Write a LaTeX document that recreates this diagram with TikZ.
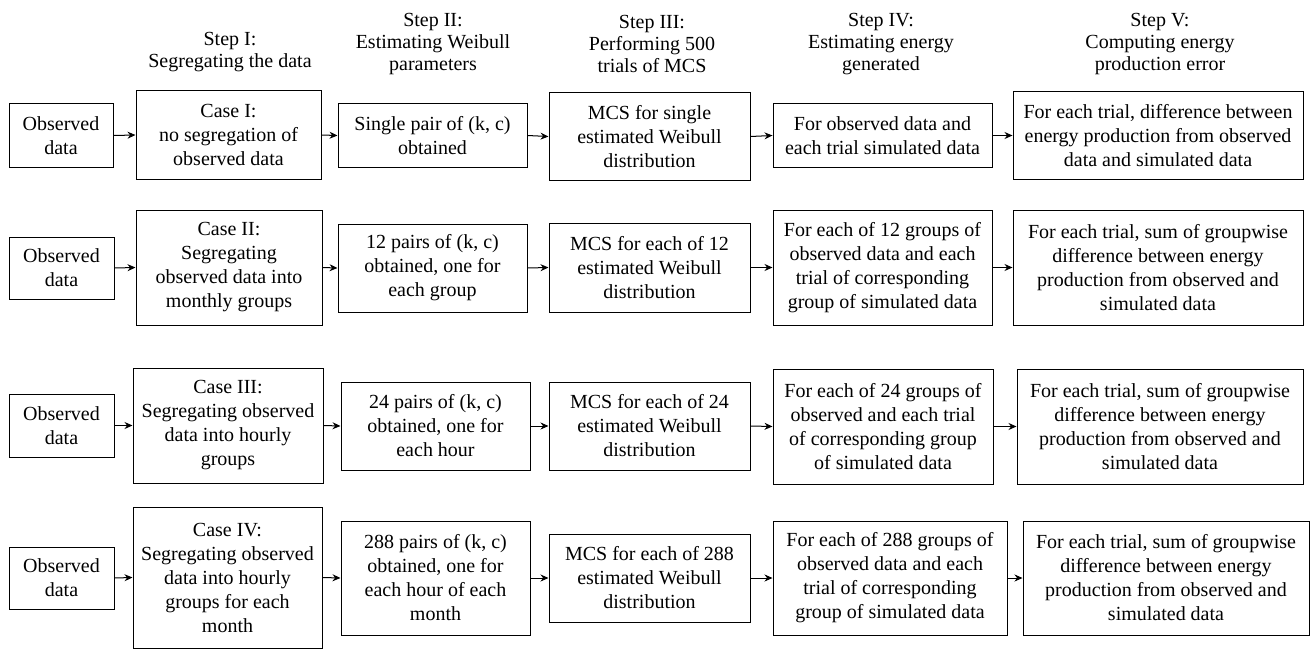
\documentclass[tikz,border=0pt]{standalone}
\usepackage{fontspec}
\setmainfont{Liberation Serif}
\newfontfamily\tnr{Liberation Serif}
\usetikzlibrary{arrows.meta}
\tikzset{
  box/.style={draw, line width=1pt, inner sep=0pt, align=center, font=\tnr\fontsize{20}{24}\selectfont},
  hdr/.style={align=center, inner sep=0pt, font=\tnr\fontsize{20}{22}\selectfont},
  arr/.style={line width=1pt, -{Stealth[length=8pt,width=7pt]}}
}
\newcommand{\bx}[6]{\node[box, minimum width={#4-#2}, minimum height={#5-#3}] (#1) at ({(#2+#4)/2},{(#3+#5)/2}) {#6};}
\begin{document}
\begin{tikzpicture}[x=1pt,y=-1pt]
\useasboundingbox (0,0) rectangle (1311,650);
% headers
\node[hdr] (h1) at (230,52) {Step I:\\Segregating the data};
\node[hdr] (h2) at (433,44) {Step II:\\Estimating Weibull\\parameters};
\node[hdr] (h3) at (652,44) {Step III:\\Performing 500\\trials of MCS};
\node[hdr] (h4) at (881,44) {Step IV:\\Estimating energy\\generated};
\node[hdr] (h5) at (1160,44) {Step V:\\Computing energy\\production error};
% row 1
\bx{obsA}{9}{104}{113}{167}{Observed\\data}
\bx{caseA}{136}{91}{321}{179}{Case I:\\no segregation of\\observed data}
\bx{kA}{338}{104}{527}{167}{Single pair of (k, c)\\obtained}
\bx{mcsA}{549}{93}{750}{180}{MCS for single\\estimated Weibull\\distribution}
\bx{enA}{773}{104}{992}{167}{For observed data and\\each trial simulated data}
\bx{errA}{1013}{92}{1303}{179}{For each trial, difference between\\energy production from observed\\data and simulated data}
% row 2
\bx{obsB}{9}{237}{114}{299}{Observed\\data}
\bx{caseB}{136}{210}{322}{325}{Case II:\\Segregating\\observed data into\\monthly groups}
\bx{kB}{338}{224}{527}{312}{12 pairs of (k, c)\\obtained, one for\\each group}
\bx{mcsB}{549}{223}{750}{312}{MCS for each of 12\\estimated Weibull\\distribution}
\bx{enB}{773}{210}{992}{325}{For each of 12 groups of\\observed data and each\\trial of corresponding\\group of simulated data}
\bx{errB}{1013}{210}{1303}{325}{For each trial, sum of groupwise\\difference between energy\\production from observed and\\simulated data}
% row 3
\bx{obsC}{9}{394}{114}{457}{Observed\\data}
\bx{caseC}{133}{368}{323}{483}{Case III:\\Segregating observed\\data into hourly\\groups}
\bx{kC}{341}{382}{530}{470}{24 pairs of (k, c)\\obtained, one for\\each hour}
\bx{mcsC}{549}{382}{750}{470}{MCS for each of 24\\estimated Weibull\\distribution}
\bx{enC}{773}{369}{993}{484}{For each of 24 groups of\\observed and each trial\\of corresponding group\\of simulated data}
\bx{errC}{1017}{369}{1303}{484}{For each trial, sum of groupwise\\difference between energy\\production from observed and\\simulated data}
% row 4
\bx{obsD}{9}{547}{114}{609}{Observed\\data}
\bx{caseD}{133}{507}{322}{648}{Case IV:\\Segregating observed\\data into hourly\\groups for each\\month}
\bx{kD}{341}{521}{530}{635}{288 pairs of (k, c)\\obtained, one for\\each hour of each\\month}
\bx{mcsD}{549}{534}{750}{622}{MCS for each of 288\\estimated Weibull\\distribution}
\bx{enD}{773}{521}{1007}{635}{For each of 288 groups of\\observed data and each\\trial of corresponding\\group of simulated data}
\bx{errD}{1023}{521}{1309}{635}{For each trial, sum of groupwise\\difference between energy\\production from observed and\\simulated data}
% arrows
\foreach \r in {A,B,C,D}{
  \draw[arr] (obs\r.east) -- (case\r.west);
  \draw[arr] (case\r.east) -- (k\r.west);
  \draw[arr] (k\r.east) -- (mcs\r.west);
  \draw[arr] (mcs\r.east) -- (en\r.west);
  \draw[arr] (en\r.east) -- (err\r.west);
}
\end{tikzpicture}
\end{document}
